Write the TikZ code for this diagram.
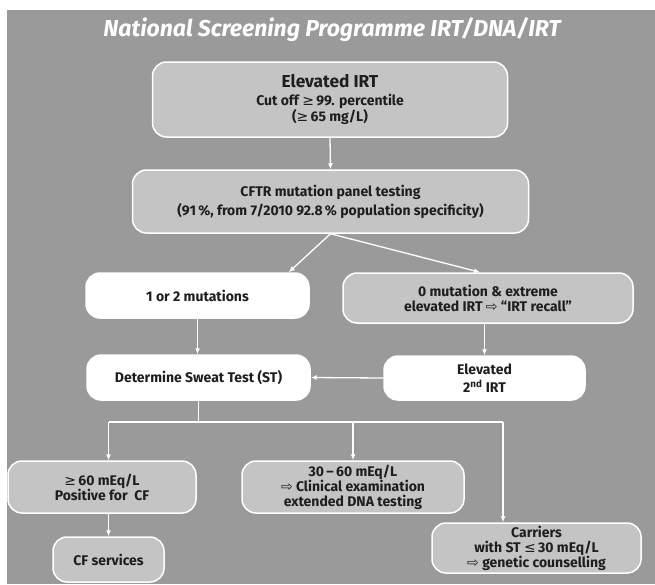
\documentclass[tikz,border=0pt]{standalone}
\usepackage{fontspec}
\setmainfont{Fira Sans}
\newfontfamily\glyphfont{DejaVu Sans}
\usepackage{tikz}
\usetikzlibrary{arrows.meta,calc}
\definecolor{bggray}{HTML}{9A9A9A}
\definecolor{boxgray}{HTML}{C4C4C4}
\definecolor{inkgray}{HTML}{1E1E1E}
\newcommand{\atleast}{{\glyphfont\mdseries ≥}}
\newcommand{\atmost}{{\glyphfont\mdseries ≤}}
\newcommand{\thenarrow}{{\glyphfont\mdseries ⇨}}

\begin{document}
\begin{tikzpicture}[x=1pt, y=-1pt, font=\bfseries\fontsize{14}{15}\selectfont, text=inkgray,
  greybox/.style={draw=white, line width=1.5pt, rounded corners=14pt, fill=boxgray, align=center, inner sep=0pt},
  whitebox/.style={greybox, fill=white},
  link/.style={draw=white, line width=1.3pt, -{Latex[length=6pt,width=5pt]}}]
\useasboundingbox (0,0) rectangle (655,584);
\fill[bggray] (7,10) rectangle (655,584);
\node[text=white, font=\bfseries\itshape\fontsize{23}{26}\selectfont] (title) at (332,30) {National Screening Programme IRT/DNA/IRT};

\node[greybox, minimum width=355pt, minimum height=75pt] (irt) at (330,99.5)
  {{\fontsize{17.3}{19}\selectfont Elevated IRT}\\[3pt]Cut off \atleast\,99. percentile\\(\atleast\,65 mg/L)};
\node[greybox, minimum width=396pt, minimum height=63pt] (cftr) at (330.5,201.5)
  {CFTR mutation panel testing\\[3pt](91\,\%, from 7/2010 92.8\,\% population specificity)};
\node[whitebox, minimum width=223pt, minimum height=45pt] (mut) at (197.5,295.5) {1 or 2 mutations};
\node[greybox, minimum width=290pt, minimum height=50pt] (recall) at (488,298)
  {0 mutation \& extreme\\elevated IRT \thenarrow\ “IRT recall”};
\node[whitebox, minimum width=223pt, minimum height=45pt] (sweat) at (198.5,377.5) {Determine Sweat Test (ST)};
\node[whitebox, minimum width=201pt, minimum height=44pt] (second) at (484.5,378) {Elevated\\[3pt]2\textsuperscript{nd} IRT};
\node[greybox, minimum width=188pt, minimum height=52pt] (pos) at (102,487) {\atleast\,60 mEq/L\\Positive for\ \ CF};
\node[greybox, minimum width=222pt, minimum height=52pt] (mid) at (353,487)
  {30\,--\,60 mEq/L\\\thenarrow\ Clinical examination\\extended DNA testing};
\node[greybox, minimum width=111pt, minimum height=45pt] (cfs) at (108.5,559.5) {CF services};
\node[greybox, minimum width=209pt, minimum height=50pt] (carr) at (536.5,548)
  {Carriers\\with ST \atmost\,30 mEq/L\\\thenarrow\ genetic counselling};

\coordinate (hubL) at (108.5,422);
\coordinate (hubR) at (503,422);
\draw[link] (irt.south) -- (cftr.south |- cftr.north);
\draw[link] (cftr.south) -- ($(mut.north east)+(-21,0)$);
\draw[link] (cftr.south) -- ($(recall.north)+(-8,0)$);
\draw[link] (mut.south) -- (mut.south |- sweat.north);
\draw[link] (second.north |- recall.south) -- (second.north);
\draw[link] (second.west) -- (sweat.east);
\draw[draw=white, line width=1.3pt] (sweat.south) -- (sweat.south |- hubL);
\draw[draw=white, line width=1.3pt] (hubL) -- (hubR);
\draw[link] (hubL) -- (hubL |- pos.north);
\draw[link] (mid.north |- hubL) -- (mid.north);
\draw[link] (hubR) -- (hubR |- carr.north);
\draw[link] (cfs.north |- pos.south) -- (cfs.north);
\end{tikzpicture}
\end{document}
